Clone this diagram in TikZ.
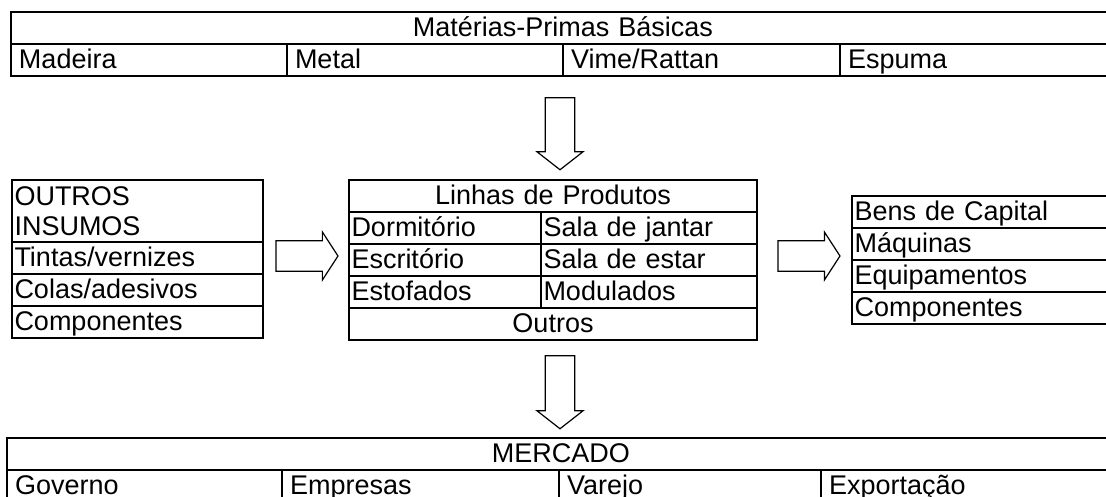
\documentclass[tikz,border=0pt]{standalone}
\usepackage{fontspec}
\setmainfont{Liberation Sans}
\usetikzlibrary{positioning, shapes.arrows}

\tikzset{
  cellbase/.style={draw, line width=1.8pt, outer sep=0pt, inner ysep=0pt, minimum height=32pt, align=left, font=\fontsize{27}{30}\selectfont},
  cell/.style={cellbase, text width=#1, text height=19pt, text depth=2pt},
  tcell/.style={cell=#1, inner xsep=8pt},
  bcell/.style={cell=#1, inner xsep=2.5pt},
  fatarrow/.style={single arrow, draw, line width=1.2pt, inner sep=0pt, inner ysep=12pt, minimum width=46pt, single arrow tip angle=104}
}

\begin{document}
\begin{tikzpicture}[x=1pt, y=1pt]
\useasboundingbox (0,0) rectangle (1106,-497);

% materias-primas
\node [tcell=1088pt, align=center, anchor=north west] (mp) at (11,-12) {Matérias-Primas Básicas};
\node [tcell=260pt, below=0pt of mp.south west, anchor=north west] (mad) {Madeira};
\node [tcell=260pt, right=0pt of mad] (met) {Metal};
\node [tcell=261pt, right=0pt of met] (vim) {Vime/Rattan};
\node [tcell=259pt, right=0pt of vim] (esp) {Espuma};

% outros insumos
\node [cellbase, text width=246pt, inner xsep=2.5pt, minimum height=62pt, anchor=north west] (ins) at (12,-180) {OUTROS\\INSUMOS};
\node [bcell=246pt, below=0pt of ins] (tin) {Tintas/vernizes};
\node [bcell=246pt, below=0pt of tin] (col) {Colas/adesivos};
\node [bcell=246pt, below=0pt of col] (cmp) {Componentes};

% linhas de produtos
\node [bcell=403pt, align=center, anchor=north west] (lp) at (349,-180) {Linhas de Produtos};
\node [bcell=187pt, below=0pt of lp.south west, anchor=north west] (dor) {Dormitório};
\node [bcell=211pt, right=0pt of dor] (sj) {Sala de jantar};
\node [bcell=187pt, below=0pt of dor] (esc) {Escritório};
\node [bcell=211pt, right=0pt of esc] (se) {Sala de estar};
\node [bcell=187pt, below=0pt of esc] (est) {Estofados};
\node [bcell=211pt, right=0pt of est] (mod) {Modulados};
\node [bcell=403pt, align=center, below=0pt of est.south west, anchor=north west] (out) {Outros};

% bens de capital
\node [bcell=258pt, anchor=north west] (bc) at (852,-196) {Bens de Capital};
\node [bcell=258pt, below=0pt of bc] (maq) {Máquinas};
\node [bcell=258pt, below=0pt of maq] (eq) {Equipamentos};
\node [bcell=258pt, below=0pt of eq] (cp) {Componentes};

% mercado
\node [tcell=1092pt, align=center, anchor=north west] (mer) at (7,-438) {MERCADO};
\node [tcell=259pt, below=0pt of mer.south west, anchor=north west] (gov) {Governo};
\node [tcell=261pt, right=0pt of gov] (emp) {Empresas};
\node [tcell=246pt, right=0pt of emp] (var) {Varejo};
\node [tcell=278pt, right=0pt of var] (exp) {Exportação};

% setas
\node [fatarrow, minimum height=72pt, rotate=-90] (a1) at (560,-128) {};
\node [fatarrow, minimum height=62pt, minimum width=48pt, single arrow tip angle=114] (a2) at (302,-256) {};
\node [fatarrow, minimum height=62pt, minimum width=48pt, single arrow tip angle=114] (a3) at (804,-256) {};
\node [fatarrow, minimum height=73pt, rotate=-90] (a4) at (560,-386.5) {};
\end{tikzpicture}
\end{document}
